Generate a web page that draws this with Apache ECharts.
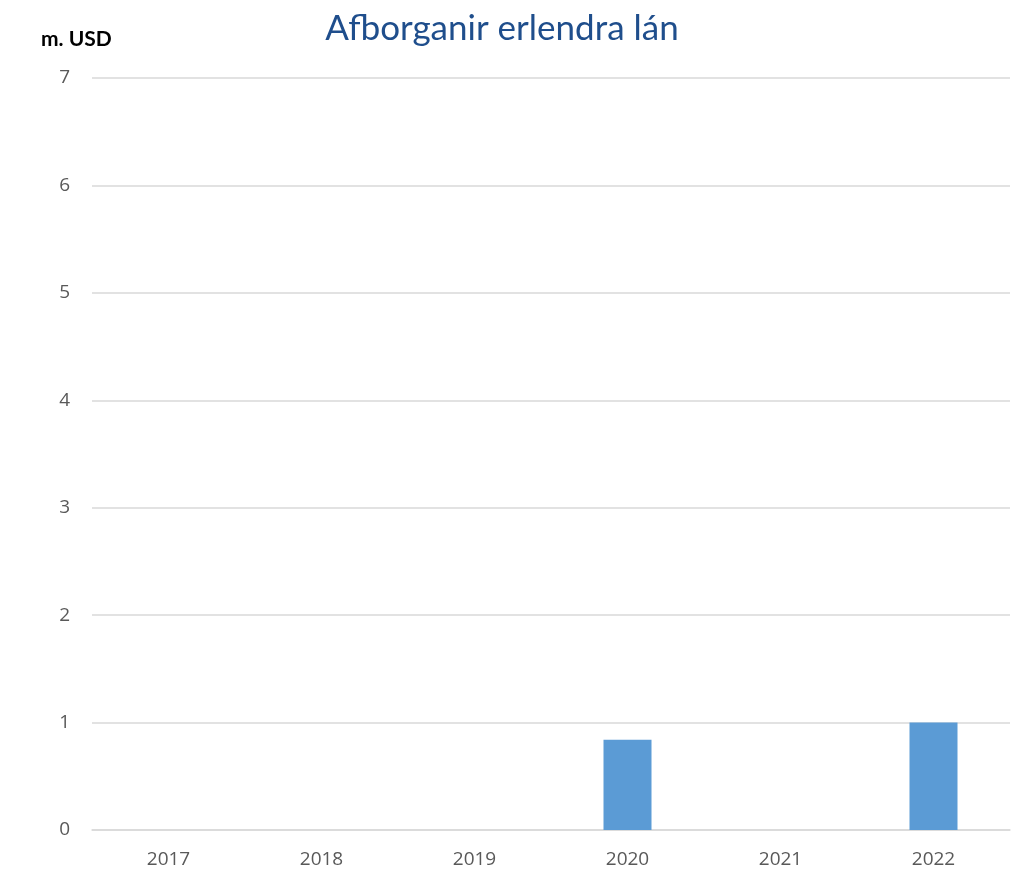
<!DOCTYPE html>
<html>
<head>
<meta charset="utf-8">
<script src="https://cdn.jsdelivr.net/npm/echarts@6/dist/echarts.min.js"></script>
<style>
  html, body { margin: 0; padding: 0; background: #fff; }
  #chart { width: 1018px; height: 875px; }
</style>
</head>
<body>
<div id="chart"></div>
<script>
  var years = ['2017', '2018', '2019', '2020', '2021', '2022'];
  var repayments = [0, 0, 0, 0.84, 0, 1.0];

  var chart = echarts.init(document.getElementById('chart'));
  chart.setOption({
    animation: false,
    title: [{
      text: 'Afborganir erlendra lán',
      left: 497,
      top: 6,
      textAlign: 'center',
      textStyle: { color: '#1F4E8C', fontSize: 35, fontWeight: 'normal', fontFamily: 'Lato' }
    }, {
      text: 'm. USD',
      left: 36,
      top: 24,
      textStyle: { color: '#000', fontSize: 21, fontWeight: 'bold', fontFamily: 'Lato' }
    }],
    grid: { left: 92, right: 8, top: 78, bottom: 45, containLabel: false },
    xAxis: {
      type: 'category',
      data: years,
      axisLine: { show: true, lineStyle: { color: '#d9d9d9', width: 1.5 } },
      axisTick: { show: false },
      axisLabel: { color: '#595959', fontSize: 19, margin: 20, fontFamily: 'Open Sans' }
    },
    yAxis: {
      type: 'value',
      min: 0,
      max: 7,
      interval: 1,
      axisLine: { show: false },
      axisTick: { show: false },
      axisLabel: { color: '#595959', fontSize: 19, margin: 22, fontFamily: 'Open Sans' },
      splitLine: { lineStyle: { color: '#d9d9d9', width: 1.5 } }
    },
    series: [{
      type: 'bar',
      data: repayments,
      barWidth: 48,
      itemStyle: { color: '#5B9BD5' }
    }]
  });
</script>
</body>
</html>
